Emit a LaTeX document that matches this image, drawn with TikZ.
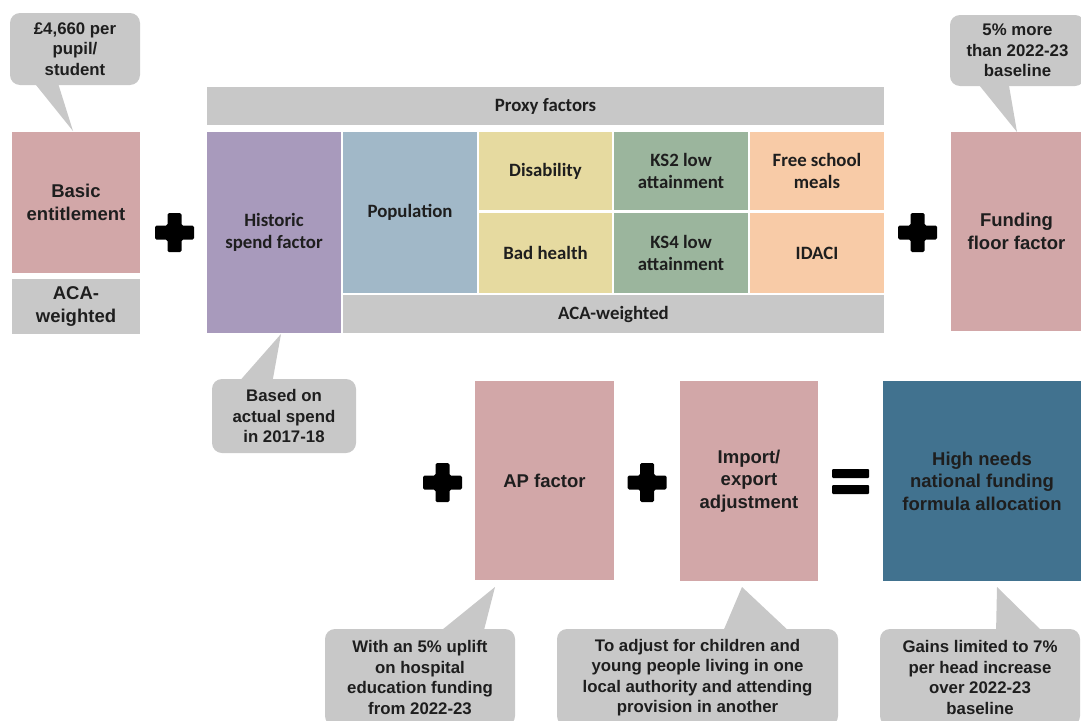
\documentclass[tikz,border=0pt]{standalone}
\usepackage{fontspec}
\setmainfont{Liberation Sans}
\newfontfamily\calfont{Carlito}
\definecolor{pinkc}{HTML}{D2A7A8}
\definecolor{grayc}{HTML}{C8C8C8}
\definecolor{purplec}{HTML}{A89ABC}
\definecolor{bluec}{HTML}{A1B8C8}
\definecolor{khakic}{HTML}{E6DAA0}
\definecolor{greenc}{HTML}{9BB59D}
\definecolor{peachc}{HTML}{F8CBA7}
\definecolor{darkbluec}{HTML}{41728F}
\definecolor{txt}{HTML}{1E1E1E}
\tikzset{
  cell/.style={inner sep=2pt, align=center, anchor=north west, text=txt, outer sep=0pt},
  arialbox/.style={cell, font=\fontsize{18.5}{22.5}\selectfont\bfseries},
  calbox/.style={cell, font=\calfont\fontsize{18.8}{22}\selectfont\bfseries},
  callout/.style={cell, fill=grayc, rounded corners=10pt, font=\fontsize{16.8}{20.4}\selectfont\bfseries},
  tail/.style={fill=grayc},
  plussign/.pic={\fill[black, rounded corners=1.5pt] (-7,-19.5) -- (7,-19.5) -- (7,-7) -- (19.5,-7) -- (19.5,7) -- (7,7) -- (7,19.5) -- (-7,19.5) -- (-7,7) -- (-19.5,7) -- (-19.5,-7) -- (-7,-7) -- cycle;},
}
\begin{document}
\begin{tikzpicture}[x=1pt,y=-1pt]
\clip (0,0) rectangle (1081,720);
\fill[white] (0,0) rectangle (1081,720);

% left column
\node[arialbox, fill=pinkc, minimum width=128pt, minimum height=141pt] (be) at (12,132) {Basic\\entitlement};
\node[arialbox, fill=grayc, minimum width=128pt, minimum height=55pt] (acal) at (12,279) {ACA-\\weighted};

% proxy table
\node[calbox, fill=grayc, minimum width=677pt, minimum height=38pt] (proxy) at (207,87) {Proxy factors};
\node[calbox, fill=purplec, minimum width=134pt, minimum height=201pt] (hist) at (207,132) {Historic\\spend factor};
\node[calbox, fill=bluec, minimum width=134pt, minimum height=161pt] (pop) at (343,132) {Population};
\node[calbox, fill=khakic, minimum width=133pt, minimum height=78pt] (dis) at (479,132) {Disability};
\node[calbox, fill=khakic, minimum width=133pt, minimum height=80pt] (bad) at (479,213) {Bad health};
\node[calbox, fill=greenc, minimum width=134pt, minimum height=78pt] (ks2) at (614,132) {KS2 low\\attainment};
\node[calbox, fill=greenc, minimum width=134pt, minimum height=80pt] (ks4) at (614,213) {KS4 low\\attainment};
\node[calbox, fill=peachc, minimum width=134pt, minimum height=78pt] (fsm) at (750,132) {Free school\\meals};
\node[calbox, fill=peachc, minimum width=134pt, minimum height=80pt] (idaci) at (750,213) {IDACI};
\node[calbox, fill=grayc, minimum width=541pt, minimum height=38pt] (acar) at (343,295) {ACA-weighted};

% right top
\node[arialbox, fill=pinkc, minimum width=131pt, minimum height=199pt] (ff) at (951,132) {Funding\\floor factor};

% bottom row
\node[arialbox, fill=pinkc, minimum width=139pt, minimum height=199pt] (ap) at (475,381) {AP factor};
\node[arialbox, fill=pinkc, minimum width=138pt, minimum height=200pt] (imp) at (680,381) {Import/\\export\\adjustment};
\node[arialbox, fill=darkbluec, minimum width=198pt, minimum height=200pt] (hn) at (883,381) {High needs\\national funding\\formula allocation};

% operators
\pic at (174.5,232.5) {plussign};
\pic at (917.5,232.5) {plussign};
\pic at (442.5,482.5) {plussign};
\pic at (647,482.5) {plussign};
\fill[black, rounded corners=1pt] (832,469) rectangle (869,478);
\fill[black, rounded corners=1pt] (832,485) rectangle (869,494);

% callouts
\fill[tail] (32,80) -- (73,131) -- (57,80) -- cycle;
\node[callout, minimum width=130pt, minimum height=72pt] (c1) at (10,13) {£4,660 per\\pupil/\\student};

\fill[tail] (975,80) -- (1017,132) -- (1008,80) -- cycle;
\node[callout, minimum width=135pt, minimum height=71pt] (c2) at (950,15) {5\% more\\than 2022-23\\baseline};

\fill[tail] (237,384) -- (281,334) -- (272,384) -- cycle;
\node[callout, minimum width=144pt, minimum height=74pt] (c3) at (212,379) {Based on\\actual spend\\in 2017-18};

\fill[tail] (437,634) -- (495,587) -- (483,634) -- cycle;
\node[callout, minimum width=190pt, minimum height=97pt] (c4) at (325,629) {With an 5\% uplift\\on hospital\\education funding\\from 2022-23};

\fill[tail] (722,634) -- (742,587) -- (792,634) -- cycle;
\node[callout, minimum width=281pt, minimum height=97pt] (c5) at (557,629) {To adjust for children and\\young people living in one\\local authority and attending\\provision in another};

\fill[tail] (996,634) -- (997,587) -- (1045,634) -- cycle;
\node[callout, minimum width=200pt, minimum height=97pt] (c6) at (880,629) {Gains limited to 7\%\\per head increase\\over 2022-23\\baseline};
\end{tikzpicture}
\end{document}
